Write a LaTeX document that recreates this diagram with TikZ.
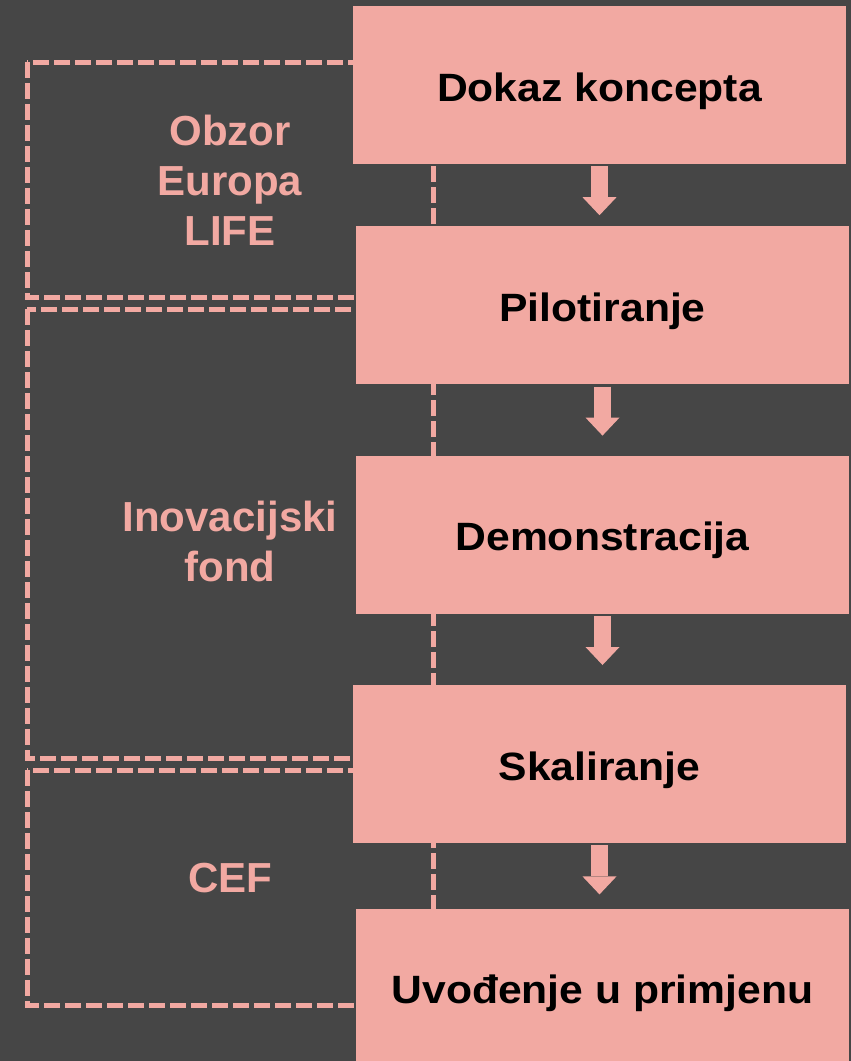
\documentclass[tikz,border=0pt]{standalone}
\usepackage{fontspec}
\setmainfont{Liberation Sans}
\newfontfamily\stagefont{Liberation Sans}[FakeStretch=1.08]
\usetikzlibrary{arrows.meta,positioning}
\definecolor{salmon}{HTML}{F2A9A2}
\definecolor{slate}{HTML}{464646}

\begin{document}
\begin{tikzpicture}[x=1pt,y=-1pt,>={Triangle[width=34pt,length=18pt,line width=0pt]}]
  \tikzstyle{stage}=[fill=salmon,text=black,minimum width=493pt,minimum height=158pt,inner sep=0pt,text height=32pt,text depth=0pt,font=\stagefont\bfseries\fontsize{39.5}{47}\selectfont]
  \tikzstyle{fund}=[draw=salmon,line width=5pt,dash pattern=on 16pt off 5pt]
  \tikzstyle{fundlabel}=[text=salmon,align=center,inner sep=0pt,font=\bfseries\fontsize{42}{50}\selectfont]
  \tikzstyle{flow}=[->,draw=salmon,line width=17pt]

  \fill[slate] (0,0) rectangle (851,1061);
  \useasboundingbox (0,0) rectangle (851,1061);

  % funding frames, partly hidden by the stages
  \draw[fund] (27,62) rectangle (433,297);
  \draw[fund] (27,309) rectangle (433,758);
  \draw[fund] (27,770) rectangle (433,1005);

  \node[fundlabel] (O) at (230,180)   {Obzor\\Europa\\LIFE};
  \node[fundlabel] (I) at (230,541)   {Inovacijski\\fond};
  \node[fundlabel] (C) at (230,878.5) {CEF};

  \node[stage] (D)  at (599.5,85)                {Dokaz koncepta};
  \node[stage] (P)  [below=62pt of D,xshift=3pt] {Pilotiranje};
  \node[stage] (Dm) [below=71pt of P]            {Demonstracija};
  \node[stage] (S)  [below=71pt of Dm,xshift=-3pt] {Skaliranje};
  \node[stage] (U)  [below=65pt of S,xshift=3pt] {Uvođenje u primjenu};

  \foreach \a in {D,P,Dm,S}
    \draw[flow] ([yshift=-2pt]\a.south) -- ([yshift=-51pt]\a.south);

\end{tikzpicture}
\end{document}
